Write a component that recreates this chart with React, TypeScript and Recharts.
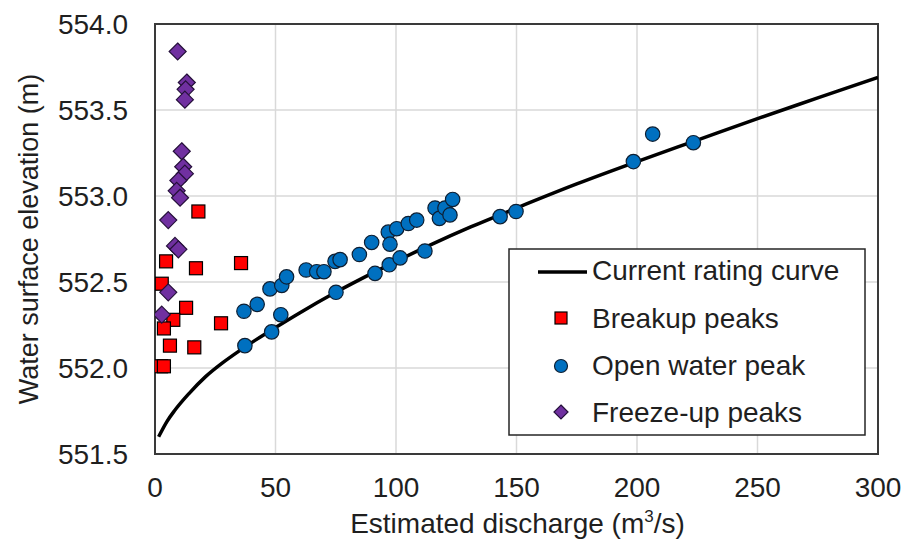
import React from "react";
import {
  ScatterChart,
  Scatter,
  XAxis,
  YAxis,
  CartesianGrid,
  ReferenceArea,
  Legend,
} from "recharts";

// ---- data ----
const xTicks = [0, 50, 100, 150, 200, 250, 300];
const yTicks = [551.5, 552.0, 552.5, 553.0, 553.5, 554.0];

const seriesNames = [
  "Current rating curve",
  "Breakup peaks",
  "Open water peak",
  "Freeze-up peaks",
];

const curveQ = [1.5, 5, 8, 14, 21, 28, 35, 42, 50, 60, 75, 90, 100, 115, 131, 150, 175, 200, 225, 250, 275, 300];
const curveZ = [551.6, 551.69, 551.75, 551.85, 551.95, 552.03, 552.1, 552.165, 552.235, 552.32, 552.44, 552.55, 552.62, 552.72, 552.82, 552.93, 553.07, 553.2, 553.325, 553.45, 553.57, 553.69];

const breakupQ = [18.0, 4.6, 17.0, 35.7, 2.8, 12.9, 7.6, 3.7, 27.4, 6.2, 16.3, 2.5, 3.7];
const breakupZ = [552.91, 552.62, 552.58, 552.61, 552.49, 552.35, 552.28, 552.23, 552.26, 552.13, 552.12, 552.01, 552.01];

const openQ = [37.3, 48.4, 52.2, 36.9, 42.4, 47.7, 52.6, 54.6, 62.7, 67.1, 70.1, 75.1, 74.7, 76.8, 84.8, 89.9, 91.3, 96.8, 97.5, 97.2, 100.3, 101.7, 105.1, 108.6, 112.0, 116.2, 118.0, 120.3, 122.4, 123.5, 143.2, 149.8, 198.5, 206.5, 223.4];
const openZ = [552.13, 552.21, 552.31, 552.33, 552.37, 552.46, 552.48, 552.53, 552.57, 552.56, 552.56, 552.44, 552.62, 552.63, 552.66, 552.73, 552.55, 552.79, 552.72, 552.6, 552.81, 552.64, 552.84, 552.86, 552.68, 552.93, 552.87, 552.93, 552.89, 552.98, 552.88, 552.91, 553.2, 553.36, 553.31];

const freezeQ = [9.4, 13.2, 12.7, 12.4, 11.1, 11.7, 12.4, 9.7, 9.0, 10.4, 5.5, 8.3, 9.7, 5.5, 2.8];
const freezeZ = [553.84, 553.66, 553.62, 553.56, 553.26, 553.17, 553.13, 553.09, 553.03, 552.99, 552.86, 552.71, 552.69, 552.44, 552.31];

const zip = (qs: number[], zs: number[]) => qs.map((q, i) => ({ q, z: zs[i] }));
const curveData = zip(curveQ, curveZ);
const breakupData = zip(breakupQ, breakupZ);
const openData = zip(openQ, openZ);
const freezeData = zip(freezeQ, freezeZ);

// ---- styles ----
const FONT = "'Liberation Sans', Arial, sans-serif";
const TEXT = "#1f1f1f";
const RED = "#ff0000";
const BLUE = "#0070c0";
const PURPLE = "#7030a0";

const SquareShape = (props: any) => {
  const { cx, cy } = props;
  if (cx == null || cy == null) return <g />;
  return <rect x={cx - 6.5} y={cy - 6.5} width={13} height={13} fill={RED} stroke="#000" strokeWidth={1.2} />;
};
const CircleShape = (props: any) => {
  const { cx, cy } = props;
  if (cx == null || cy == null) return <g />;
  return <circle cx={cx} cy={cy} r={7.2} fill={BLUE} stroke="#0d1f33" strokeWidth={1.2} />;
};
const DiamondShape = (props: any) => {
  const { cx, cy } = props;
  if (cx == null || cy == null) return <g />;
  const h = 8.5;
  return (
    <polygon
      points={`${cx},${cy - h} ${cx + h},${cy} ${cx},${cy + h} ${cx - h},${cy}`}
      fill={PURPLE}
      stroke="#25103a"
      strokeWidth={1.2}
    />
  );
};
const NoShape = () => <g />;

const LegendBox = () => {
  const tx = 84;
  const rows = [22, 70, 117, 164];
  return (
    <svg width={358} height={188} style={{ display: "block" }}>
      <rect x={1} y={1} width={356} height={186} fill="#fff" stroke="#262626" strokeWidth={1.5} />
      <line x1={30} y1={rows[0] + 2} x2={79} y2={rows[0] + 2} stroke="#000" strokeWidth={3.5} />
      <rect x={47} y={rows[1] - 6} width={12} height={12} fill={RED} stroke="#000" strokeWidth={1.2} />
      <circle cx={53} cy={rows[2] + 1} r={6.5} fill={BLUE} stroke="#0d1f33" strokeWidth={1.2} />
      <polygon
        points={`53,${rows[3] - 7} 60,${rows[3]} 53,${rows[3] + 7} 46,${rows[3]}`}
        fill={PURPLE}
        stroke="#25103a"
        strokeWidth={1.2}
      />
      {seriesNames.map((n, i) => (
        <text key={n} x={tx} y={rows[i] + 10} fontSize={28} fontFamily={FONT} fill={TEXT}>
          {n}
        </text>
      ))}
    </svg>
  );
};

const YTitle = (props: any) => {
  const vb = props.viewBox || {};
  const cy = (vb.y ?? 24) + (vb.height ?? 430) / 2;
  return (
    <text
      x={29}
      y={cy}
      transform={`rotate(-90 29 ${cy})`}
      textAnchor="middle"
      dominantBaseline="central"
      fontSize={27}
      fontFamily={FONT}
      fill={TEXT}
    >
      Water surface elevation (m)
    </text>
  );
};

const XTitle = (props: any) => {
  const vb = props.viewBox || {};
  const cx = (vb.x ?? 155) + (vb.width ?? 723) / 2;
  return (
    <text x={cx + 1} y={533} textAnchor="middle" fontSize={28} fontFamily={FONT} fill={TEXT}>
      <tspan>Estimated discharge (m</tspan>
      <tspan fontSize={17} dy={-11}>3</tspan>
      <tspan dy={11}>/s)</tspan>
    </text>
  );
};

export default function App() {
  return (
    <div style={{ position: "absolute", left: 0, top: 0, width: 906, height: 546, background: "#fff" }}>
      <ScatterChart width={906} height={546} margin={{ top: 24, right: 28, left: 0, bottom: 0 }}>
        <CartesianGrid stroke="#d9d9d9" strokeWidth={1.5} />
        <XAxis
          type="number"
          dataKey="q"
          domain={[0, 300]}
          ticks={xTicks}
          allowDataOverflow
          height={92}
          tickSize={0}
          tickMargin={23}
          axisLine={false}
          tickLine={false}
          tick={{ fontSize: 28, fontFamily: FONT, fill: TEXT }}
          label={{ content: <XTitle /> } as any}
        />
        <YAxis
          type="number"
          dataKey="z"
          domain={[551.5, 554]}
          ticks={yTicks}
          allowDataOverflow
          width={155}
          tickSize={0}
          tickMargin={27}
          axisLine={false}
          tickLine={false}
          tickFormatter={(v: number) => v.toFixed(1)}
          tick={{ fontSize: 28, fontFamily: FONT, fill: TEXT }}
          label={{ content: <YTitle /> } as any}
        />
        <ReferenceArea x1={0} x2={300} y1={551.5} y2={554} fill="none" fillOpacity={0} stroke="#3a3a3a" strokeWidth={2} />
        <Scatter
          name={seriesNames[0]}
          data={curveData}
          line={{ stroke: "#000", strokeWidth: 3.5 }}
          lineJointType="monotoneX"
          shape={NoShape}
          isAnimationActive={false}
        />
        <Scatter name={seriesNames[1]} data={breakupData} shape={SquareShape} isAnimationActive={false} />
        <Scatter name={seriesNames[2]} data={openData} shape={CircleShape} isAnimationActive={false} />
        <Scatter name={seriesNames[3]} data={freezeData} shape={DiamondShape} isAnimationActive={false} />
        <Legend
          layout="vertical"
          align="center"
          verticalAlign="middle"
          content={() => <LegendBox />}
          wrapperStyle={{ position: "absolute", left: 508, top: 248, width: 358, height: 188 }}
        />
      </ScatterChart>
    </div>
  );
}
